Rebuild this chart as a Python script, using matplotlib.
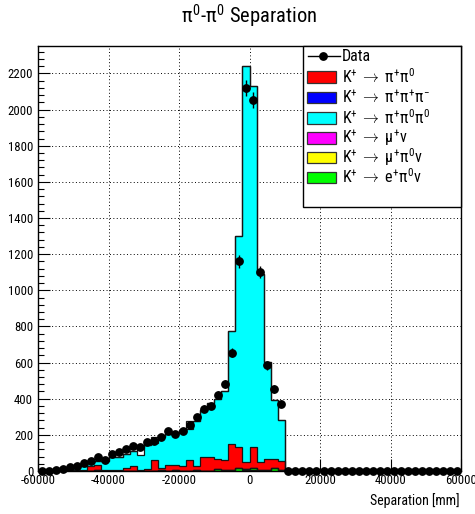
import numpy as np
import matplotlib
matplotlib.use("Agg")
import matplotlib.pyplot as plt
from matplotlib import font_manager
from matplotlib.patches import Rectangle
from matplotlib.lines import Line2D
from matplotlib.ticker import MultipleLocator

# Pick a narrow sans face if one is installed, otherwise plain Liberation Sans
_entries = font_manager.fontManager.ttflist
_names = {f.name for f in _entries}
FONT, STRETCH = "Liberation Sans", "normal"
for cand in ["Liberation Sans Narrow", "Roboto Condensed", "Noto Sans Condensed",
             "Open Sans Condensed", "Arial Narrow"]:
    if cand in _names:
        FONT = cand
        break
else:
    for fam in ["Noto Sans", "Open Sans", "Roboto"]:
        cond = [f for f in _entries if f.name == fam and f.stretch in
                ("condensed", "semi-condensed", "extra-condensed")]
        if cond:
            FONT, STRETCH = fam, cond[0].stretch
            break

plt.rcParams["font.family"] = [FONT, "Liberation Sans", "DejaVu Sans"]
plt.rcParams["font.stretch"] = STRETCH
plt.rcParams["mathtext.fontset"] = "custom"
plt.rcParams["mathtext.rm"] = f"{FONT}:stretch={STRETCH}"
plt.rcParams["mathtext.it"] = f"{FONT}:stretch={STRETCH}"
plt.rcParams["mathtext.bf"] = f"{FONT}:bold:stretch={STRETCH}"
plt.rcParams["axes.unicode_minus"] = False

# Binning: 60 bins of 2000 mm between -60000 and 60000 mm
x_lo, x_hi, n_bins = -60000, 60000, 60

# Observed counts per bin
data_counts = [
    1, 1, 4, 10, 20, 30, 44, 57, 78, 61,
    96, 104, 122, 137, 132, 158, 165, 190, 219, 206,
    224, 254, 298, 345, 360, 422, 484, 655, 1160, 2120,
    2054, 1100, 584, 455, 372, 0, 0, 0, 0, 0,
    0, 0, 0, 0, 0, 0, 0, 0, 0, 0,
    0, 0, 0, 0, 0, 0, 0, 0, 0, 0,
]

# Simulated contributions per decay channel
k2pi = [  # K+ -> pi+ pi0
    0, 0, 0, 0, 0, 3, 8, 25, 28, 5,
    8, 5, 18, 28, 8, 10, 61, 12, 35, 32,
    28, 62, 24, 79, 79, 52, 55, 143, 117, 40,
    114, 42, 62, 50, 50, 0, 0, 0, 0, 0,
    0, 0, 0, 0, 0, 0, 0, 0, 0, 0,
    0, 0, 0, 0, 0, 0, 0, 0, 0, 0,
]
k3pi = [  # K+ -> pi+ pi+ pi-
    0, 0, 0, 0, 0, 0, 0, 0, 0, 0,
    0, 0, 0, 0, 0, 0, 0, 0, 0, 0,
    0, 0, 0, 0, 0, 1, 0, 2, 2, 3,
    3, 2, 1, 0, 0, 0, 0, 0, 0, 0,
    0, 0, 0, 0, 0, 0, 0, 0, 0, 0,
    0, 0, 0, 0, 0, 0, 0, 0, 0, 0,
]
k3pi0 = [  # K+ -> pi+ pi0 pi0
    0, 0, 1, 3, 8, 9, 22, 25, 23, 53,
    70, 75, 77, 82, 80, 135, 96, 175, 170, 175,
    200, 169, 245, 260, 297, 331, 381, 625, 1167, 2189,
    1999, 1041, 535, 327, 229, 0, 0, 0, 0, 0,
    0, 0, 0, 0, 0, 0, 0, 0, 0, 0,
    0, 0, 0, 0, 0, 0, 0, 0, 0, 0,
]
kmu2 = [  # K+ -> mu+ nu
    0, 0, 0, 0, 0, 0, 0, 0, 0, 0,
    0, 0, 0, 0, 0, 0, 0, 0, 0, 0,
    0, 0, 0, 0, 0, 0, 0, 0, 0, 0,
    0, 0, 0, 0, 0, 0, 0, 0, 0, 0,
    0, 0, 0, 0, 0, 0, 0, 0, 0, 0,
    0, 0, 0, 0, 0, 0, 0, 0, 0, 0,
]
kmu3 = [  # K+ -> mu+ pi0 nu
    0, 0, 0, 0, 0, 0, 0, 0, 0, 0,
    0, 0, 0, 0, 0, 0, 0, 0, 0, 0,
    0, 0, 0, 0, 0, 0, 0, 0, 0, 0,
    0, 0, 0, 0, 0, 0, 0, 0, 0, 0,
    0, 0, 0, 0, 0, 0, 0, 0, 0, 0,
    0, 0, 0, 0, 0, 0, 0, 0, 0, 0,
]
ke3 = [  # K+ -> e+ pi0 nu
    0, 0, 0, 0, 0, 3, 0, 0, 4, 0,
    0, 0, 0, 0, 0, 0, 0, 3, 0, 3,
    0, 0, 5, 0, 0, 12, 4, 6, 14, 8,
    14, 5, 6, 15, 5, 0, 0, 0, 0, 0,
    0, 0, 0, 0, 0, 0, 0, 0, 0, 0,
    0, 0, 0, 0, 0, 0, 0, 0, 0, 0,
]
# Unfilled remainder on top of the stack (outline only)
other = [
    0, 0, 0, 0, 0, 0, 0, 0, 0, 0,
    0, 0, 0, 0, 42, 0, 33, 0, 0, 0,
    0, 43, 0, 0, 0, 0, 0, 0, 0, 0,
    0, 0, 0, 0, 0, 0, 0, 0, 0, 0,
    0, 0, 0, 0, 0, 0, 0, 0, 0, 0,
    0, 0, 0, 0, 0, 0, 0, 0, 0, 0,
]

legend_labels = [
    r"K$^{+}\;\rightarrow\;\pi^{+}\pi^{0}$",
    r"K$^{+}\;\rightarrow\;\pi^{+}\pi^{+}\pi^{-}$",
    r"K$^{+}\;\rightarrow\;\pi^{+}\pi^{0}\pi^{0}$",
    r"K$^{+}\;\rightarrow\;\mu^{+}\nu$",
    r"K$^{+}\;\rightarrow\;\mu^{+}\pi^{0}\nu$",
    r"K$^{+}\;\rightarrow\;e^{+}\pi^{0}\nu$",
]
legend_colors = ["#ff0000", "#0000ff", "#00ffff", "#ff00ff", "#ffff00", "#00ff00"]

x_ticks = [-60000, -40000, -20000, 0, 20000, 40000, 60000]
x_tick_labels = ["-60000", "-40000", "-20000", "0", "20000", "40000", "60000"]
y_ticks = [0, 200, 400, 600, 800, 1000, 1200, 1400, 1600, 1800, 2000, 2200]
y_tick_labels = [str(v) for v in y_ticks]

NARROW = FONT != "Liberation Sans" or STRETCH != "normal"
tick_fs = 9.2 if NARROW else 8.3
title_fs = 14.8 if NARROW else 13
label_fs = 10 if NARROW else 9
leg_fs = 11.5 if NARROW else 10

W, H = 475, 514
fig = plt.figure(figsize=(W / 100, H / 100), dpi=100)
L, R, T, B = 38, 461, 46, 471
ax = fig.add_axes([L / W, 1 - B / H, (R - L) / W, (B - T) / H])

edges = np.linspace(x_lo, x_hi, n_bins + 1)
centers = 0.5 * (edges[:-1] + edges[1:])

# Stack from bottom to top
stack = [
    (np.array(k3pi, float), "#0000ff"),
    (np.array(ke3, float), "#00ff00"),
    (np.array(kmu3, float), "#ffff00"),
    (np.array(kmu2, float), "#ff00ff"),
    (np.array(k2pi, float), "#ff0000"),
    (np.array(k3pi0, float), "#00ffff"),
]
base = np.zeros(n_bins)
tops = []
for vals, col in stack:
    top = base + vals
    ax.stairs(top, edges, baseline=base, fill=True, color=col, lw=0, zorder=1)
    tops.append(top)
    base = top
total = base + np.array(other, float)
outline_col = "#151515"
for top in tops:
    ax.stairs(top, edges, color=outline_col, lw=0.9, zorder=2)
ax.stairs(total, edges, color=outline_col, lw=0.9, zorder=2)

# Data points with Poisson errors
dc = np.array(data_counts, float)
ax.errorbar(centers, dc, yerr=np.sqrt(dc), fmt="o", color="black", ms=5.3,
            elinewidth=1.0, capsize=0, clip_on=False, zorder=5)

ax.set_xlim(x_lo, x_hi)
ax.set_ylim(0, 2352)
ax.set_xticks(x_ticks)
ax.set_xticklabels(x_tick_labels)
ax.set_yticks(y_ticks)
ax.set_yticklabels(y_tick_labels)
ax.yaxis.set_minor_locator(MultipleLocator(40))
ax.tick_params(which="both", direction="in", top=False, right=False,
               labelsize=tick_fs, colors="black", width=0.8)
ax.tick_params(axis="x", which="major", length=8.5, pad=2.5)
ax.tick_params(axis="y", which="major", length=8.5, pad=3.5)
ax.tick_params(which="minor", length=4.3)
ax.grid(True, which="major", color="black", linestyle=(0, (1, 2.5)), linewidth=0.7)
ax.set_axisbelow(True)
for s in ax.spines.values():
    s.set_linewidth(1.0)
    s.set_color("black")


def fx(px):
    return px / W


def fy(py):
    return 1 - py / H


# Title and axis label
fig.text(fx(249), fy(23), r"$\pi^{0}$-$\pi^{0}$ Separation", ha="center",
         va="baseline", fontsize=title_fs)
fig.text(fx(460), fy(505), "Separation [mm]", ha="right", va="baseline",
         fontsize=label_fs)

# Legend box
lx0, ly0, lx1, ly1 = 303, 46, 461, 207
fig.add_artist(Rectangle((fx(lx0), fy(ly1)), fx(lx1) - fx(lx0), fy(ly0) - fy(ly1),
                         transform=fig.transFigure, facecolor="white",
                         edgecolor="black", lw=1.0, zorder=10))
row_y = [56, 77, 97.5, 118, 138, 157.5, 177]
fig.add_artist(Line2D([fx(308), fx(340)], [fy(row_y[0])] * 2, color="black",
                      lw=1.0, transform=fig.transFigure, zorder=11))
fig.add_artist(Line2D([fx(323)], [fy(row_y[0])], marker="o", ms=5.3,
                      color="black", transform=fig.transFigure, zorder=11))
fig.text(fx(342), fy(row_y[0]), "Data", ha="left", va="center", fontsize=leg_fs,
         zorder=11)
for yy, lab, col in zip(row_y[1:], legend_labels, legend_colors):
    fig.add_artist(Rectangle((fx(307), fy(yy + 5.5)), fx(336) - fx(307), 11 / H,
                             transform=fig.transFigure, facecolor=col,
                             edgecolor="#333333", lw=0.9, zorder=11))
    fig.text(fx(342), fy(yy), lab, ha="left", va="center", fontsize=leg_fs,
             zorder=11)

fig.savefig("out.png", dpi=100)
